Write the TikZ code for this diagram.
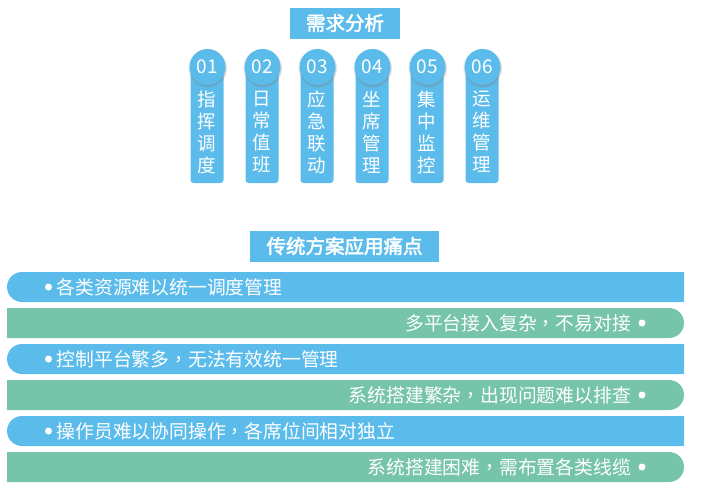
\documentclass[tikz,border=0pt]{standalone}
\usepackage{fontspec}
\setmainfont{Noto Sans CJK SC}
\newfontfamily\cjkbold{Noto Sans CJK SC}[FakeBold=2.4]
\newfontfamily\tcfont{Noto Sans CJK TC}
\newcommand{\cma}{{\tcfont ，}}
\usetikzlibrary{shapes.misc,shadows}
\definecolor{skyb}{HTML}{5BBCEC}
\definecolor{mint}{HTML}{76C4A9}
\tikzset{
  titlebox/.style={fill=skyb, text=white, font=\cjkbold\fontsize{19.5}{19.5}\selectfont, minimum height=31, inner sep=0},
  numcirc/.style={circle, fill=skyb, minimum size=36, inner sep=0, text=white, font=\fontsize{19}{19}\selectfont,
    circular drop shadow={shadow xshift=0pt, shadow yshift=-1pt, shadow scale=1.1, opacity=0.45}},
  pill/.style={fill=skyb, rounded corners=3, minimum width=33, minimum height=116, inner sep=0},
  pilltext/.style={text=white, align=center, inner sep=0, font=\fontsize{18.5}{22}\selectfont},
  bluebar/.style={rounded rectangle, rounded rectangle east arc=none, fill=skyb, minimum width=677, minimum height=30, inner sep=0},
  greenbar/.style={rounded rectangle, rounded rectangle west arc=none, fill=mint, minimum width=677, minimum height=30, inner sep=0},
  dotb/.style={circle, fill=white, minimum size=7, inner sep=0},
  bartext/.style={text=white, inner sep=0, font=\fontsize{18.8}{18.8}\selectfont},
}
\begin{document}
\begin{tikzpicture}[x=1pt,y=-1pt]
\useasboundingbox[fill=white] (0,0) rectangle (708,501);
% top title
\node[titlebox, minimum width=110] (t1) at (345,23) {需求分析};
% columns
\foreach \i/\num/\txt in {0/01/{指\\挥\\调\\度},1/02/{日\\常\\值\\班},2/03/{应\\急\\联\\动},3/04/{坐\\席\\管\\理},4/05/{集\\中\\监\\控},5/06/{运\\维\\管\\理}}{
  \node[pill] (p\i) at ({207+55*\i},125) {};
  \node[numcirc] (c\i) at ({207.5+55*\i},67) {\num};
  \node[pilltext] (w\i) at ({207+55*\i},132) {\txt};
}
% second title
\node[titlebox, minimum width=189] (t2) at (344.5,246) {传统方案应用痛点};
% bars
\foreach \k/\kind/\txt in {0/b/各类资源难以统一调度管理,1/g/多平台接入复杂\cma 不易对接,2/b/控制平台繁多\cma 无法有效统一管理,3/g/系统搭建繁杂\cma 出现问题难以排查,4/b/操作员难以协同操作\cma 各席位间相对独立,5/g/系统搭建困难\cma 需布置各类线缆}{
  \pgfmathsetmacro{\yy}{287+36*\k}
  \if\kind b
    \node[bluebar] (bar\k) at (345.5,\yy) {};
    \node[dotb] (d\k) at (48.5,\yy) {};
    \node[bartext, anchor=west] (s\k) at (56.5,\yy) {\txt};
  \else
    \node[greenbar] (bar\k) at (345.5,\yy) {};
    \node[dotb] (d\k) at (642,\yy) {};
    \node[bartext, anchor=east] (s\k) at (631,\yy) {\txt};
  \fi
}
\end{tikzpicture}
\end{document}
